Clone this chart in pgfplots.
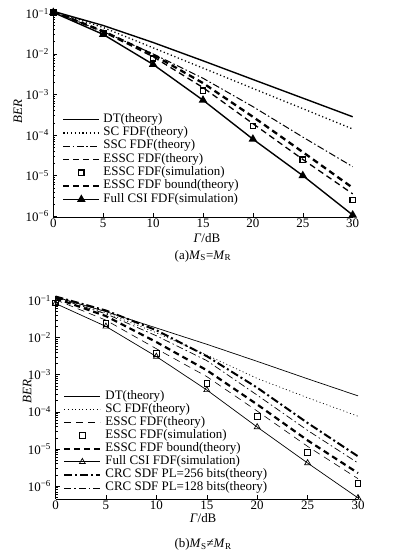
\documentclass[border=0pt]{standalone}
\usepackage{fontspec}
\setmainfont{Liberation Serif}
\usepackage{pgfplots}
\pgfplotsset{compat=1.18}
\begin{document}
\fontsize{13}{15}\selectfont
\begin{tikzpicture}[x=1bp,y=1bp]
\useasboundingbox (0,0) rectangle (399,-556);
% ---------------- (a) ----------------
\begin{axis}[
  ymode=log, scale only axis, clip=false,
  axis x line*=bottom, axis y line*=left,
  x axis line style={-, line width=0.9pt}, y axis line style={-, line width=0.9pt},
  xmin=0, xmax=30,
  xtick={0,5,10,15,20,25,30}, xticklabels={0,5,10,15,20,25,30},
  ytick={1e-6,1e-5,1e-4,1e-3,1e-2,1e-1},
  yticklabels={10\textsuperscript{−6},10\textsuperscript{−5},10\textsuperscript{−4},10\textsuperscript{−3},10\textsuperscript{−2},10\textsuperscript{−1}},
  minor ytick={2e-6,3e-6,4e-6,5e-6,6e-6,7e-6,8e-6,9e-6,2e-5,3e-5,4e-5,5e-5,6e-5,7e-5,8e-5,9e-5,2e-4,3e-4,4e-4,5e-4,6e-4,7e-4,8e-4,9e-4,2e-3,3e-3,4e-3,5e-3,6e-3,7e-3,8e-3,9e-3,2e-2,3e-2,4e-2,5e-2,6e-2,7e-2,8e-2,9e-2},
  tick align=inside, major tick length=4bp, minor tick length=2bp,
  tick style={line width=0.5pt, black},
  xticklabel style={yshift=2.5bp},
  legend cell align=left,
  legend image code/.code={\draw[mark repeat=2,mark phase=2,#1] plot coordinates {(0bp,0bp) (18bp,0bp) (36bp,0bp)};},
  legend style={draw=none, fill=none, inner sep=0pt, anchor=north west,
    column sep=3bp, row sep=0pt,
    nodes={inner sep=0pt, text height=9.3bp, text depth=4bp},
    at={(axis description cs:0.029,0.506)}},
  at={(53.3bp,-217bp)}, anchor=south west,
  width=299.4bp, height=206bp,
  ymin=9.55e-7, ymax=0.114,
  ylabel={\textit{BER}}, xlabel={\textit{Γ}/dB},
  every axis y label/.style={at={(axis description cs:-0.118,0.51)}, rotate=90, anchor=center},
  every axis x label/.style={at={(axis description cs:0.513,-0.102)}, anchor=center},
]
\addplot[black, line width=1.4pt] coordinates {(0,0.112) (5,0.0501) (10,0.0191) (15,6.76e-3) (20,2.34e-3) (25,8.13e-4) (30,2.82e-4)};
\addlegendentry{DT(theory)}
\addplot[black, line width=1.3pt, dash pattern=on 1.2bp off 2.6bp] coordinates {(0,0.112) (5,0.0447) (10,0.0141) (15,4.47e-3) (20,1.41e-3) (25,4.47e-4) (30,1.41e-4)};
\addlegendentry{SC FDF(theory)}
\addplot[black, line width=1pt, dash pattern=on 7bp off 2.5bp on 1.5bp off 2.5bp] coordinates {(0,0.11) (5,0.0355) (10,0.01) (15,2.51e-3) (20,5.01e-4) (25,8.91e-5) (30,1.66e-5)};
\addlegendentry{SSC FDF(theory)}
\addplot[black, line width=1.3pt, dash pattern=on 6bp off 4bp] coordinates {(0,0.11) (5,0.0347) (10,8.51e-3) (15,1.48e-3) (20,1.91e-4) (25,2.51e-5) (30,3.55e-6)};
\addlegendentry{ESSC FDF(theory)}
\addplot[black, only marks, mark=square, mark size=2.6bp, mark options={line width=1.5pt, solid}] coordinates {(0,0.105) (5,0.0324) (10,7.76e-3) (15,1.23e-3) (20,1.66e-4) (25,2.45e-5) (30,2.51e-6)};
\addlegendentry{ESSC FDF(simulation)}
\addplot[black, line width=2.3pt, dash pattern=on 6bp off 4bp] coordinates {(0,0.11) (5,0.0363) (10,9.55e-3) (15,1.91e-3) (20,2.82e-4) (25,3.8e-5) (30,5.01e-6)};
\addlegendentry{ESSC FDF bound(theory)}
\addplot[black, line width=1.4pt, mark=triangle*, mark size=3.6bp, mark options={solid}] coordinates {(0,0.105) (5,0.0302) (10,5.5e-3) (15,7.24e-4) (20,7.94e-5) (25,1e-5) (30,1.07e-6)};
\addlegendentry{Full CSI FDF(simulation)}
\node[anchor=center] at (axis description cs:0.5,-0.189) {(a)\textit{M}\textsubscript{S}=\textit{M}\textsubscript{R}};
\end{axis}
% ---------------- (b) ----------------
\begin{axis}[
  ymode=log, scale only axis, clip=false,
  axis x line*=bottom, axis y line*=left,
  x axis line style={-, line width=0.9pt}, y axis line style={-, line width=0.9pt},
  xmin=0, xmax=30,
  xtick={0,5,10,15,20,25,30}, xticklabels={0,5,10,15,20,25,30},
  ytick={1e-6,1e-5,1e-4,1e-3,1e-2,1e-1},
  yticklabels={10\textsuperscript{−6},10\textsuperscript{−5},10\textsuperscript{−4},10\textsuperscript{−3},10\textsuperscript{−2},10\textsuperscript{−1}},
  minor ytick={5e-7,6e-7,7e-7,8e-7,9e-7,2e-6,3e-6,4e-6,5e-6,6e-6,7e-6,8e-6,9e-6,2e-5,3e-5,4e-5,5e-5,6e-5,7e-5,8e-5,9e-5,2e-4,3e-4,4e-4,5e-4,6e-4,7e-4,8e-4,9e-4,2e-3,3e-3,4e-3,5e-3,6e-3,7e-3,8e-3,9e-3,2e-2,3e-2,4e-2,5e-2,6e-2,7e-2,8e-2,9e-2},
  tick align=inside, major tick length=4bp, minor tick length=2bp,
  tick style={line width=0.5pt, black},
  xticklabel style={yshift=2.5bp},
  legend cell align=left,
  legend image code/.code={\draw[mark repeat=2,mark phase=2,#1] plot coordinates {(0bp,0bp) (18bp,0bp) (36bp,0bp)};},
  legend style={draw=none, fill=none, inner sep=0pt, anchor=north west,
    column sep=4bp, row sep=0pt,
    nodes={inner sep=0pt, text height=9.3bp, text depth=3.8bp},
    at={(axis description cs:0.025,0.539)}},
  at={(55.5bp,-499bp)}, anchor=south west,
  width=302.5bp, height=203bp,
  ymin=4.47e-7, ymax=0.132,
  ylabel={\textit{BER}}, xlabel={\textit{Γ}/dB},
  every axis y label/.style={at={(axis description cs:-0.094,0.53)}, rotate=90, anchor=center},
  every axis x label/.style={at={(axis description cs:0.488,-0.094)}, anchor=center},
]
\addplot[black, line width=0.7pt] coordinates {(0,0.125) (5,0.0501) (10,0.0182) (15,6.61e-3) (20,2.29e-3) (25,7.76e-4) (30,2.69e-4)};
\addlegendentry{DT(theory)}
\addplot[black, line width=0.7pt, dash pattern=on 1bp off 2.6bp] coordinates {(0,0.122) (5,0.0468) (10,0.0135) (15,3.39e-3) (20,7.94e-4) (25,2.4e-4) (30,7.59e-5)};
\addlegendentry{SC FDF(theory)}
\addplot[black, line width=0.6pt, dash pattern=on 7bp off 5bp] coordinates {(0,0.105) (5,0.0295) (10,5.01e-3) (15,8.91e-4) (20,1.05e-4) (25,1.17e-5) (30,1.58e-6)};
\addlegendentry{ESSC FDF(theory)}
\addplot[black, only marks, mark=square, mark size=2.8bp, mark options={line width=0.8pt, solid}] coordinates {(0,0.087) (5,0.0245) (10,3.8e-3) (15,5.89e-4) (20,7.59e-5) (25,8.13e-6) (30,1.17e-6)};
\addlegendentry{ESSC FDF(simulation)}
\addplot[black, line width=2.2pt, dash pattern=on 6bp off 4bp] coordinates {(0,0.115) (5,0.038) (10,7.59e-3) (15,1.32e-3) (20,1.58e-4) (25,1.7e-5) (30,2.24e-6)};
\addlegendentry{ESSC FDF bound(theory)}
\addplot[black, line width=0.7pt, mark=triangle, mark size=3.4bp, mark options={solid, line width=0.7pt}] coordinates {(0,0.083) (5,0.02) (10,3.09e-3) (15,3.89e-4) (20,3.89e-5) (25,4.17e-6) (30,4.79e-7)};
\addlegendentry{Full CSI FDF(simulation)}
\addplot[black, line width=2pt, dash pattern=on 8bp off 3bp on 2bp off 3bp] coordinates {(0,0.128) (5,0.0537) (10,0.0158) (15,3.16e-3) (20,4.47e-4) (25,5.01e-5) (30,6.31e-6)};
\addlegendentry{CRC SDF PL=256 bits(theory)}
\addplot[black, line width=0.7pt, dash pattern=on 7bp off 3bp on 1.5bp off 3bp] coordinates {(0,0.12) (5,0.0437) (10,0.0112) (15,2.4e-3) (20,2.82e-4) (25,3.16e-5) (30,4.17e-6)};
\addlegendentry{CRC SDF PL=128 bits(theory)}
\node[anchor=center] at (axis description cs:0.488,-0.225) {(b)\textit{M}\textsubscript{S}≠\textit{M}\textsubscript{R}};
\end{axis}
\end{tikzpicture}
\end{document}
